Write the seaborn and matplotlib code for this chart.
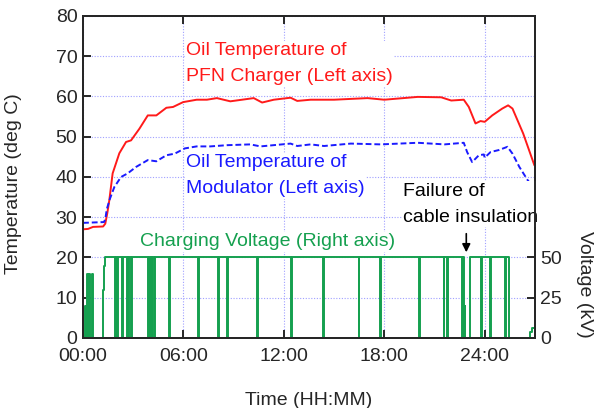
import numpy as np
import pandas as pd
import seaborn as sns
import matplotlib.pyplot as plt

sns.set_style("ticks")
plt.rcParams['font.family'] = ['Liberation Sans', 'DejaVu Sans']

# time in hours from 00:00
t_pfn = [0, 0.3, 0.6, 1.2, 1.33, 1.45, 1.57, 1.77, 2.17, 2.57, 2.87, 3.37, 3.87, 4.38,
         4.98, 5.38, 5.98, 6.79, 7.4, 8.0, 8.8, 10.2, 10.7, 11.4, 12.4, 12.8, 13.6,
         15.0, 17.0, 18.0, 20.0, 21.4, 22.0, 22.75, 23.05, 23.45, 23.75, 24.0, 24.45,
         25.05, 25.4, 25.66, 26.3, 26.97]
temp_pfn = [27.0, 27.1, 27.6, 27.7, 28.4, 31.0, 34.2, 40.9, 45.9, 48.7, 49.1, 52.0, 55.3,
            55.3, 57.2, 57.4, 58.6, 59.2, 59.2, 59.6, 58.8, 59.6, 58.5, 59.2, 59.7, 58.9,
            59.2, 59.2, 59.6, 59.2, 59.9, 59.8, 59.0, 59.2, 57.4, 53.3, 53.9, 53.7, 55.3,
            57.0, 57.8, 57.0, 50.8, 42.9]

t_mod = [0, 1.25, 1.33, 1.42, 1.6, 1.87, 2.27, 2.67, 3.17, 3.87, 4.38, 4.98, 5.48, 6.08,
         6.79, 7.6, 8.6, 10.0, 10.6, 12.4, 12.8, 13.6, 14.4, 16.0, 17.8, 20.0, 21.6,
         22.75, 22.95, 23.25, 23.65, 23.95, 24.0, 24.35, 24.85, 25.36, 25.66, 26.07,
         26.57, 26.97]
temp_mod = [28.6, 28.8, 29.5, 32.0, 34.5, 37.5, 40.0, 40.9, 42.5, 44.2, 43.9, 45.4, 45.8,
            47.1, 47.6, 47.6, 47.9, 48.1, 47.6, 48.3, 47.7, 48.1, 47.7, 48.3, 48.1, 48.5,
            48.1, 48.5, 46.2, 43.7, 45.4, 45.6, 44.8, 46.2, 46.7, 47.5, 45.8, 42.5, 39.2,
            37.1]

# charging voltage (kV), step signal
t_volt = [0, 0.10, 0.15, 0.22, 0.30, 0.36, 0.42, 0.55, 0.60, 1.18, 1.24, 1.31,
          1.91, 1.96, 2.03, 2.08, 2.31, 2.36, 2.61, 2.66, 2.71, 2.76, 2.85, 2.90,
          3.90, 3.95, 4.00, 4.05, 4.10, 4.15, 4.24, 4.29, 5.16, 5.21, 6.89, 6.94,
          8.09, 8.14, 8.59, 8.64, 10.38, 10.43, 12.43, 12.50, 14.33, 14.38, 16.46, 16.51,
          17.75, 17.80, 20.08, 20.13, 21.54, 21.59, 21.74, 21.79, 22.63, 22.68,
          22.74, 22.80, 22.84, 23.12, 23.80, 23.85, 24.33, 24.38, 25.20, 25.25,
          25.46, 26.72, 26.85, 27.0]
volt = [0, 20, 0, 40, 0, 40, 0, 40, 0, 30, 45, 50,
        0, 50, 0, 50, 0, 50, 0, 50, 0, 50, 0, 50,
        0, 50, 0, 50, 0, 50, 0, 50, 0, 50, 0, 50,
        0, 50, 0, 50, 0, 50, 0, 50, 0, 50, 0, 50,
        0, 50, 0, 50, 0, 50, 0, 50, 0, 50,
        0, 20, 0, 50, 0, 50, 0, 50, 0, 50,
        0, 4, 6, 6]

xtick_pos = [0, 6, 12, 18, 24]
xtick_labels = ["00:00", "06:00", "12:00", "18:00", "24:00"]
ytick_left = [0, 10, 20, 30, 40, 50, 60, 70, 80]
ytick_right = [0, 25, 50]

red = "#ff1a1a"
blue = "#1a1aff"
green = "#15a04f"
fs = 14

df_pfn = pd.DataFrame({"t": t_pfn, "T": temp_pfn})
df_mod = pd.DataFrame({"t": t_mod, "T": temp_mod})
df_v = pd.DataFrame({"t": t_volt, "V": volt})

fig = plt.figure(figsize=(5.99, 4.08), dpi=100)
ax = fig.add_axes([0.1386, 0.1716, 0.7544, 0.7892])

sns.lineplot(data=df_pfn, x="t", y="T", ax=ax, color=red, lw=1.4, estimator=None, sort=False)
sns.lineplot(data=df_mod, x="t", y="T", ax=ax, color=blue, lw=1.4, estimator=None,
             sort=False, dashes=False, linestyle=(0, (3, 1.5)))

ax.set_xlim(0, 27)
ax.set_ylim(0, 80)
ax.set_xticks(xtick_pos)
ax.set_xticklabels(xtick_labels)
ax.set_yticks(ytick_left)
ax.grid(True, color="#a0a0ff", linestyle=(0, (1, 1.5)), linewidth=0.8)
ax.tick_params(axis="both", direction="in", length=6, width=1.4, labelsize=fs, pad=4)
ax.tick_params(axis="x", top=True, pad=7)
ax.set_xlabel("Time (HH:MM)", fontsize=fs, labelpad=20)
ax.set_ylabel("Temperature (deg C)", fontsize=fs)
ax.yaxis.set_label_coords(-0.135, 0.48)
for s in ax.spines.values():
    s.set_linewidth(1.4)

box = dict(facecolor="white", edgecolor="none", pad=1)
ax.text(6.16, 68.2, "Oil Temperature of\nPFN Charger (Left axis)", color=red,
        fontsize=fs, va="center", ha="left", bbox=box, linespacing=1.7)
ax.text(6.16, 40.3, "Oil Temperature of\nModulator (Left axis)", color=blue,
        fontsize=fs, va="center", ha="left", bbox=box, linespacing=1.7)
ax.text(19.13, 33.2, "Failure of\ncable insulation", color="black",
        fontsize=fs, va="center", ha="left", bbox=box, linespacing=1.7)
ax.text(3.4, 23.9, "Charging Voltage (Right axis)", color=green,
        fontsize=fs, va="center", ha="left", bbox=box)
ax.annotate("", xy=(22.9, 20.6), xytext=(22.9, 26.6),
            arrowprops=dict(arrowstyle="-|>", color="black", lw=1.2, mutation_scale=12))

ax2 = ax.twinx()
sns.lineplot(data=df_v, x="t", y="V", ax=ax2, color=green, lw=1.4, estimator=None,
             sort=False, drawstyle="steps-post")
ax2.set_ylim(0, 200)
ax2.set_yticks(ytick_right)
ax2.tick_params(axis="y", direction="in", length=6, width=1.4, labelsize=fs, pad=4)
ax2.set_ylabel("Voltage (kV)", fontsize=fs, rotation=270, va="center")
ax2.yaxis.set_label_coords(1.11, 0.165)
for s in ax2.spines.values():
    s.set_linewidth(1.4)

fig.savefig("out.png", dpi=100)
